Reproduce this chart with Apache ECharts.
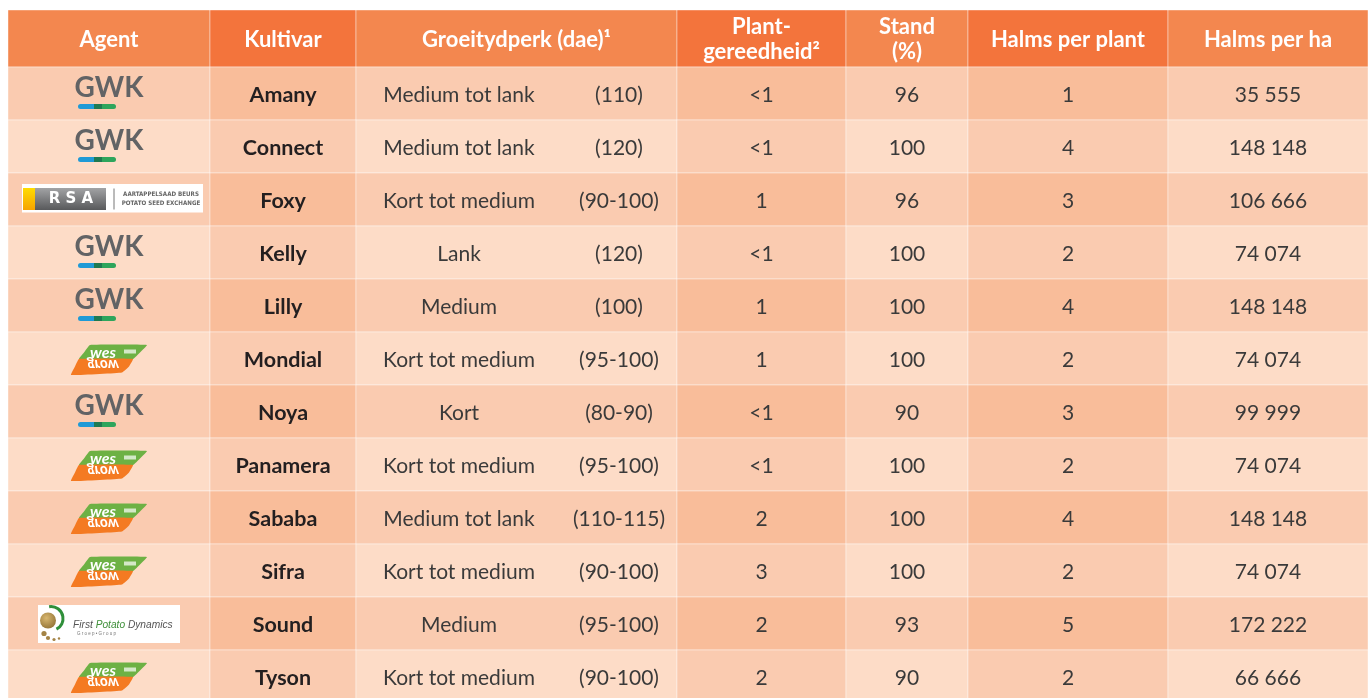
<!DOCTYPE html>
<html>
<head>
<meta charset="utf-8">
<script src="https://cdn.jsdelivr.net/npm/echarts@6/dist/echarts.min.js"></script>
<style>
  html, body { margin: 0; padding: 0; background: #fff; }
  #chart { width: 1370px; height: 698px; }
</style>
</head>
<body>
<div id="chart"></div>
<script>
// table data
const headers = ['Agent', 'Kultivar', 'Groeitydperk (dae)¹', 'Plant-\ngereedheid²', 'Stand\n(%)', 'Halms per plant', 'Halms per ha'];
const agents = ['GWK', 'GWK', 'RSA', 'GWK', 'GWK', 'WesGrow', 'GWK', 'WesGrow', 'WesGrow', 'WesGrow', 'FPD', 'WesGrow'];
const cultivars = ['Amany', 'Connect', 'Foxy', 'Kelly', 'Lilly', 'Mondial', 'Noya', 'Panamera', 'Sababa', 'Sifra', 'Sound', 'Tyson'];
const growthClass = ['Medium tot lank', 'Medium tot lank', 'Kort tot medium', 'Lank', 'Medium', 'Kort tot medium', 'Kort', 'Kort tot medium', 'Medium tot lank', 'Kort tot medium', 'Medium', 'Kort tot medium'];
const growthDays = ['(110)', '(120)', '(90-100)', '(120)', '(100)', '(95-100)', '(80-90)', '(95-100)', '(110-115)', '(90-100)', '(95-100)', '(90-100)'];
const readiness = ['<1', '<1', '1', '<1', '1', '1', '<1', '<1', '2', '3', '2', '2'];
const stand = [96, 100, 96, 100, 100, 100, 90, 100, 100, 100, 93, 90];
const stemsPerPlant = [1, 4, 3, 2, 4, 2, 3, 2, 4, 2, 5, 2];
const stemsPerHa = [35555, 148148, 106666, 74074, 148148, 74074, 99999, 74074, 148148, 74074, 172222, 66666];

// layout
const columnWidths = [202, 146, 321, 169, 122, 200, 200];
const headerHeight = 57;
const rowHeight = 53;
const visibleHeight = 688; // last row runs off the bottom of the page
const colStart = [];
columnWidths.reduce((acc, w, i) => { colStart[i] = acc; return acc + w; }, 0);
const tableWidth = columnWidths.reduce((a, b) => a + b, 0);

function fmt(n) {
  return String(n).replace(/\B(?=(\d{3})+(?!\d))/g, ' ');
}

function cellColor(c, r) {
  const dark = c % 2 === 1;
  if (r < 0) return dark ? '#f3743c' : '#f3874f';
  if (r % 2 === 0) return dark ? '#f9bd9a' : '#facbb0';
  return dark ? '#facbb0' : '#fddcc7';
}

function cellText(c, r) {
  switch (c) {
    case 1: return cultivars[r];
    case 3: return readiness[r];
    case 4: return String(stand[r]);
    case 5: return String(stemsPerPlant[r]);
    case 6: return fmt(stemsPerHa[r]);
  }
  return '';
}

const bodyFont = { fontFamily: 'Lato', fontSize: 21, fill: '#3a3a3a' };

function logo(kind, cx, cy) {
  if (kind === 'GWK') {
    return [
      { type: 'text', style: { text: 'GWK', x: cx, y: cy - 6, align: 'center', verticalAlign: 'middle', fontFamily: 'Lato', fontWeight: 'bold', fontSize: 28, fill: '#626365' } },
      { type: 'rect', shape: { x: cx - 31, y: cy + 10.5, width: 16, height: 5, r: [2.5, 0, 0, 2.5] }, style: { fill: '#1f9ad6' } },
      { type: 'rect', shape: { x: cx - 15, y: cy + 10.5, width: 8, height: 5 }, style: { fill: '#1e7a52' } },
      { type: 'rect', shape: { x: cx - 7, y: cy + 10.5, width: 14, height: 5, r: [0, 2.5, 2.5, 0] }, style: { fill: '#2ea55c' } }
    ];
  }
  if (kind === 'RSA') {
    return [
      { type: 'rect', shape: { x: cx - 87, y: cy - 15.5, width: 181, height: 28.5 }, style: { fill: '#fff' } },
      { type: 'rect', shape: { x: cx - 86, y: cy - 11.5, width: 12, height: 22 },
        style: { fill: new echarts.graphic.LinearGradient(0, 0, 0, 1, [{ offset: 0, color: '#ffdc00' }, { offset: 1, color: '#f6a300' }]) } },
      { type: 'rect', shape: { x: cx - 74, y: cy - 11.5, width: 71, height: 22 },
        style: { fill: new echarts.graphic.LinearGradient(0, 0, 0, 1, [{ offset: 0, color: '#a2a3a5' }, { offset: 1, color: '#58595b' }]) } },
      { type: 'text', style: { text: 'R S A', x: cx - 38, y: cy, align: 'center', verticalAlign: 'middle', fontFamily: 'DejaVu Sans', fontWeight: 'bold', fontSize: 15, fill: '#fff' } },
      { type: 'line', shape: { x1: cx + 5, y1: cy - 11, x2: cx + 5, y2: cy + 10 }, style: { stroke: '#777', lineWidth: 1 } },
      { type: 'text', style: { text: 'AARTAPPELSAAD BEURS', x: cx + 52, y: cy - 5, align: 'center', verticalAlign: 'middle', fontFamily: 'DejaVu Sans Condensed', fontWeight: 'bold', fontSize: 6.2, fill: '#666' } },
      { type: 'text', style: { text: 'POTATO SEED EXCHANGE', x: cx + 52, y: cy + 4, align: 'center', verticalAlign: 'middle', fontFamily: 'DejaVu Sans Condensed', fontWeight: 'bold', fontSize: 6.2, fill: '#666' } }
    ];
  }
  if (kind === 'WesGrow') {
    const pts = (arr) => arr.map(p => [cx + p[0], cy + p[1]]);
    return [
      { type: 'polygon', shape: { points: pts([[-19, -13.5], [38, -13.5], [31, -6], [24, 0.5], [-30, 0.5], [-25, -6]]), smooth: 0.1 }, style: { fill: '#6db144' } },
      { type: 'polygon', shape: { points: pts([[-30, 0.5], [24, 0.5], [20, 8], [13, 14], [-38, 16.5], [-34, 8]]), smooth: 0.1 }, style: { fill: '#f47a22' } },
      { type: 'text', style: { text: 'wes', x: cx - 6, y: cy - 6, align: 'center', verticalAlign: 'middle', fontFamily: 'Lato', fontStyle: 'italic', fontWeight: 'bold', fontSize: 16, fill: '#fff' } },
      { type: 'text', x: cx - 6, y: cy + 6, scaleY: -1, style: { text: 'grow', x: 0, y: 0, align: 'center', verticalAlign: 'middle', fontFamily: 'Lato', fontStyle: 'italic', fontWeight: 'bold', fontSize: 15, fill: '#fff' } },
      { type: 'rect', shape: { x: cx + 15, y: cy - 9, width: 12, height: 4 }, style: { fill: '#fff', opacity: 0.7 } }
    ];
  }
  if (kind === 'FPD') {
    return [
      { type: 'rect', shape: { x: cx - 71, y: cy - 18.5, width: 142, height: 38 }, style: { fill: '#fff' } },
      { type: 'arc', shape: { cx: cx - 58, cy: cy - 5, r: 12, startAngle: -Math.PI * 0.55, endAngle: Math.PI * 0.35 }, style: { stroke: '#2f8f3a', lineWidth: 3, fill: null } },
      { type: 'circle', shape: { cx: cx - 61, cy: cy - 3, r: 8 },
        style: { fill: new echarts.graphic.RadialGradient(0.4, 0.35, 0.8, [{ offset: 0, color: '#d8b770' }, { offset: 1, color: '#8a6a2e' }]) } },
      { type: 'circle', shape: { cx: cx - 65, cy: cy + 10, r: 2.6 }, style: { fill: '#a48446' } },
      { type: 'circle', shape: { cx: cx - 61, cy: cy + 14.5, r: 2.1 }, style: { fill: '#a48446' } },
      { type: 'circle', shape: { cx: cx - 55, cy: cy + 16, r: 1.6 }, style: { fill: '#a48446' } },
      { type: 'circle', shape: { cx: cx - 50, cy: cy + 15, r: 1.2 }, style: { fill: '#a48446' } },
      { type: 'text', style: { text: '{g|First }{p|Potato}{g| Dynamics}', x: cx - 36, y: cy + 2, align: 'left', verticalAlign: 'middle',
        rich: {
          g: { fontFamily: 'Liberation Sans', fontStyle: 'italic', fontSize: 10.2, fill: '#555' },
          p: { fontFamily: 'Liberation Sans', fontStyle: 'italic', fontSize: 10.2, fill: '#3f8f3a' }
        } } },
      { type: 'text', style: { text: 'G r o e p • G r o u p', x: cx - 32, y: cy + 10.5, align: 'left', verticalAlign: 'middle', fontFamily: 'Liberation Sans', fontSize: 4.5, fill: '#777' } }
    ];
  }
  return [];
}

function renderCell(params, api) {
  const c = api.value(0);
  const r = api.value(1);
  const x0 = colStart[c];
  const x1 = x0 + columnWidths[c];
  const y0 = r < 0 ? 0 : headerHeight + r * rowHeight;
  const y1 = r < 0 ? headerHeight : y0 + rowHeight;
  const p0 = api.coord([x0, y0]);
  const p1 = api.coord([x1, y1]);
  const cx = (p0[0] + p1[0]) / 2;
  const cy = (p0[1] + p1[1]) / 2;
  const children = [{
    type: 'rect',
    shape: { x: p0[0], y: p0[1], width: p1[0] - p0[0], height: p1[1] - p0[1] },
    style: { fill: cellColor(c, r), stroke: 'rgba(255,255,255,0.4)', lineWidth: 1 }
  }];
  if (r < 0) {
    children.push({ type: 'text', style: {
      text: headers[c], x: cx, y: cy + 1, align: 'center', verticalAlign: 'middle',
      fontFamily: 'Lato', fontWeight: 'bold', fontSize: 22, lineHeight: 25, fill: '#fff' } });
  } else if (c === 0) {
    children.push.apply(children, logo(agents[r], cx, cy));
  } else if (c === 2) {
    children.push({ type: 'text', style: Object.assign({ text: growthClass[r], x: p0[0] + 103, y: cy + 1.5, align: 'center', verticalAlign: 'middle' }, bodyFont) });
    children.push({ type: 'text', style: Object.assign({ text: growthDays[r], x: p0[0] + 263, y: cy + 1.5, align: 'center', verticalAlign: 'middle' }, bodyFont) });
  } else {
    const st = Object.assign({ text: cellText(c, r), x: cx, y: cy + 1.5, align: 'center', verticalAlign: 'middle' }, bodyFont);
    if (c === 1) { st.fontWeight = 'bold'; st.fontSize = 21.5; st.fill = '#231f20'; }
    children.push({ type: 'text', style: st });
  }
  return { type: 'group', children: children };
}

const cells = [];
for (let r = -1; r < cultivars.length; r++) {
  for (let c = 0; c < columnWidths.length; c++) cells.push([c, r]);
}

const chart = echarts.init(document.getElementById('chart'));
chart.setOption({
  animation: false,
  grid: { left: 8, top: 10, width: tableWidth, height: visibleHeight },
  xAxis: { type: 'value', min: 0, max: tableWidth, show: false },
  yAxis: { type: 'value', min: 0, max: visibleHeight, inverse: true, show: false },
  series: [{
    type: 'custom',
    renderItem: renderCell,
    data: cells,
    clip: false,
    silent: true
  }]
});
</script>
</body>
</html>
